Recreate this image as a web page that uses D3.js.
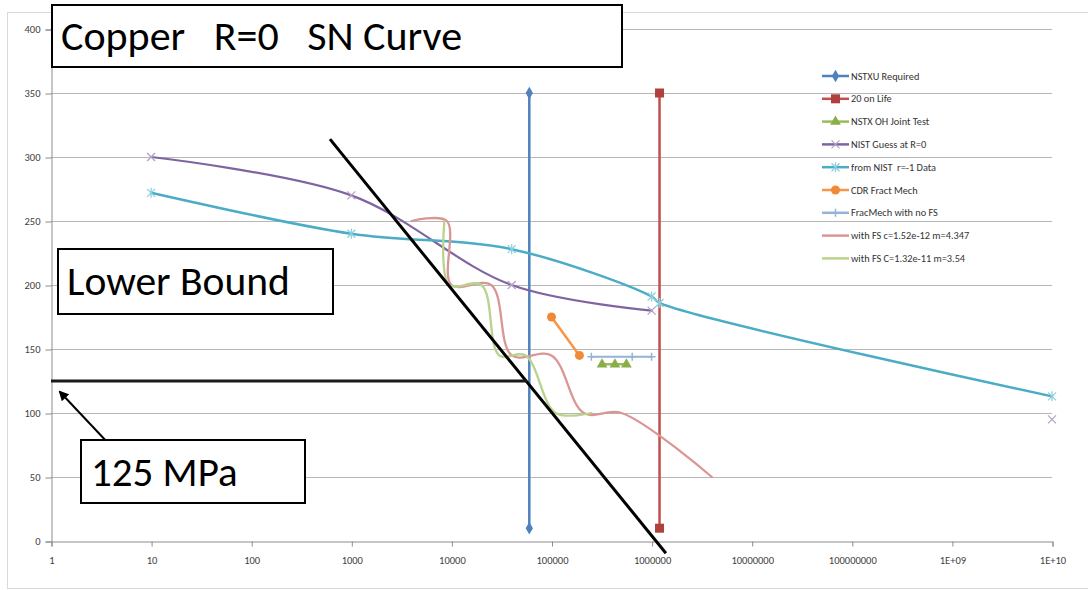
<!DOCTYPE html>
<html>
<head>
<meta charset="utf-8">
<script src="https://cdn.jsdelivr.net/npm/d3@7"></script>
<style>
  html, body { margin: 0; padding: 0; background: #fff; }
  svg { display: block; }
  text { font-family: Carlito, Calibri, Lato, "Open Sans", sans-serif; }
</style>
</head>
<body>
<svg id="chart" width="1088" height="590"></svg>
<script>
// ---------------- DATA ----------------
const xTickValues = [1, 10, 100, 1000, 10000, 100000, 1000000, 10000000, 100000000, 1e9, 1e10];
const xTickLabels = ["1", "10", "100", "1000", "10000", "100000", "1000000", "10000000", "100000000", "1E+09", "1E+10"];
const yTickValues = [0, 50, 100, 150, 200, 250, 300, 350, 400];

const seriesNames = [
  "NSTXU Required", "20 on Life", "NSTX OH Joint Test", "NIST Guess at R=0",
  "from NIST  r=-1 Data", "CDR Fract Mech", "FracMech with no FS",
  "with FS c=1.52e-12 m=4.347", "with FS C=1.32e-11 m=3.54"
];

const nstxuRequired = [[60000, 350], [60000, 10]];
const twentyOnLife = [[1200000, 350], [1200000, 10]];
const nstxOhJointTest = [[320000, 138], [430000, 138], [560000, 138]];
const nistGuessR0 = [[10, 300], [1000, 270], [40000, 200], [1000000, 180]];
const nistGuessR0Extra = [[1e10, 95]];
const nistRm1 = [[10, 272], [1000, 240], [40000, 228], [1000000, 191], [1200000, 186], [1e10, 113]];
const cdrFractMech = [[100000, 175], [190000, 145]];
const fracMechNoFS = [[250000, 144], [640000, 144], [1000000, 144]];
const withFS152 = [[4000, 250], [9000, 250], [10000, 200], [25000, 200], [40000, 145], [100000, 145], [210000, 100], [500000, 100], [4000000, 50]];
const withFS132 = [[8500, 250], [9500, 200], [20000, 200], [30000, 145], [55000, 145], [110000, 100], [250000, 100]];

// annotation lines (data units)
const lowerBoundLine = [[612, 314], [1390000, -9.6]];
const mpa125Line = [[1, 125], [57000, 125]];

// ---------------- LAYOUT ----------------
const svg = d3.select("#chart");
const x = d3.scaleLog().domain([1, 1e10]).range([51, 1052]);
const y = d3.scaleLinear().domain([0, 400]).range([541, 29]);

// chart area border
svg.append("rect").attr("x", 7.5).attr("y", 12.5).attr("width", 1085).attr("height", 576)
  .attr("fill", "none").attr("stroke", "#d9d9d9").attr("stroke-width", 1);

// gridlines
svg.append("g").selectAll("line").data(yTickValues.filter(v => v > 0)).join("line")
  .attr("x1", x(1)).attr("x2", x(1e10))
  .attr("y1", d => Math.round(y(d)) + 0.5).attr("y2", d => Math.round(y(d)) + 0.5)
  .attr("stroke", "#b7b7b7").attr("stroke-width", 1);

// axes
const yAxis = d3.axisLeft(y).tickValues(yTickValues).tickSize(6).tickPadding(5).tickFormat(d3.format("d"));
const gy = svg.append("g").attr("transform", `translate(${x(1) + 0.5},0.5)`).call(yAxis);
const xAxis = d3.axisBottom(x).tickValues(xTickValues).tickSize(5).tickPadding(10)
  .tickFormat((d, i) => xTickLabels[i]);
const gx = svg.append("g").attr("transform", `translate(0.5,${y(0) + 0.5})`).call(xAxis);
[gx, gy].forEach(g => {
  g.select(".domain").attr("stroke", "#8c8c8c");
  g.selectAll(".tick line").attr("stroke", "#8c8c8c");
  g.selectAll(".tick text").attr("fill", "#404040").style("font-size", "10.5px")
    .style("font-family", "Carlito, Calibri, Lato, sans-serif");
});

// ---------------- SERIES ----------------
const smooth = d3.line().x(d => x(d[0])).y(d => y(d[1])).curve(d3.curveCatmullRom.alpha(0.5));
const straight = d3.line().x(d => x(d[0])).y(d => y(d[1]));

function marker(g, type, color, cx, cy) {
  const s = 4;
  if (type === "diamond") {
    g.append("path").attr("d", d3.symbol(d3.symbolDiamond, 46)()).attr("transform", `translate(${cx},${cy})`).attr("fill", color);
  } else if (type === "square") {
    g.append("rect").attr("x", cx - 4.5).attr("y", cy - 4.5).attr("width", 9).attr("height", 9).attr("fill", color);
  } else if (type === "triangle") {
    g.append("path").attr("d", d3.symbol(d3.symbolTriangle, 50)()).attr("transform", `translate(${cx},${cy})`).attr("fill", color);
  } else if (type === "circle") {
    g.append("circle").attr("cx", cx).attr("cy", cy).attr("r", 4.5).attr("fill", color);
  } else if (type === "x") {
    g.append("path").attr("d", `M${cx - s},${cy - s}L${cx + s},${cy + s}M${cx - s},${cy + s}L${cx + s},${cy - s}`)
      .attr("stroke", color).attr("stroke-width", 1.3).attr("fill", "none");
  } else if (type === "star") {
    g.append("path").attr("d", `M${cx - s},${cy - s}L${cx + s},${cy + s}M${cx - s},${cy + s}L${cx + s},${cy - s}M${cx},${cy - s - 1}L${cx},${cy + s + 1}`)
      .attr("stroke", color).attr("stroke-width", 1.3).attr("fill", "none");
  } else if (type === "plus") {
    g.append("path").attr("d", `M${cx - s},${cy}L${cx + s},${cy}M${cx},${cy - s}L${cx},${cy + s}`)
      .attr("stroke", color).attr("stroke-width", 1.5).attr("fill", "none");
  }
}

const series = [
  { name: seriesNames[0], data: nstxuRequired, color: "#4F81BD", mcolor: "#4F81BD", marker: "diamond", smooth: false, w: 2.5 },
  { name: seriesNames[1], data: twentyOnLife, color: "#C0504D", mcolor: "#B0403D", marker: "square", smooth: false, w: 2.5 },
  { name: seriesNames[2], data: nstxOhJointTest, color: "#9BBB59", mcolor: "#8AAE48", marker: "triangle", smooth: false, w: 2.5 },
  { name: seriesNames[3], data: nistGuessR0, color: "#8064A2", mcolor: "#B3A2C7", marker: "x", smooth: true, w: 2.2 },
  { name: seriesNames[4], data: nistRm1, color: "#4BACC6", mcolor: "#8FD0E0", marker: "star", smooth: true, w: 2.5 },
  { name: seriesNames[5], data: cdrFractMech, color: "#F79646", mcolor: "#F08A36", marker: "circle", smooth: false, w: 2.5 },
  { name: seriesNames[6], data: fracMechNoFS, color: "#95B3D7", mcolor: "#95B3D7", marker: "plus", smooth: false, w: 2 },
  { name: seriesNames[7], data: withFS152, color: "#DA9694", mcolor: null, marker: null, smooth: true, w: 2.3 },
  { name: seriesNames[8], data: withFS132, color: "#B9D38F", mcolor: null, marker: null, smooth: true, w: 2.3 }
];

const gSeries = svg.append("g");
series.forEach(s => {
  const g = gSeries.append("g");
  g.append("path").attr("d", (s.smooth ? smooth : straight)(s.data))
    .attr("fill", "none").attr("stroke", s.color).attr("stroke-width", s.w)
    .attr("stroke-linejoin", "round").attr("stroke-linecap", "round");
  if (s.marker) s.data.forEach(d => marker(g, s.marker, s.mcolor, x(d[0]), y(d[1])));
});
// isolated NIST guess point
nistGuessR0Extra.forEach(d => marker(gSeries, "x", "#B3A2C7", x(d[0]), y(d[1])));

// ---------------- LEGEND ----------------
const legendY0 = 76, legendStep = 22.8;
const gLeg = svg.append("g");
series.forEach((s, i) => {
  const ly = legendY0 + i * legendStep;
  gLeg.append("line").attr("x1", 822).attr("x2", 849).attr("y1", ly).attr("y2", ly)
    .attr("stroke", s.color).attr("stroke-width", 2.5);
  if (s.marker) marker(gLeg, s.marker, s.mcolor, 835.5, ly);
  gLeg.append("text").attr("x", 851).attr("y", ly + 3.5).text(s.name)
    .attr("fill", "#333").style("font-size", "10.3px").style("white-space", "pre");
});

// ---------------- ANNOTATIONS ----------------
svg.append("path").attr("d", straight(lowerBoundLine)).attr("stroke", "#000").attr("stroke-width", 3).attr("fill", "none");
svg.append("path").attr("d", straight(mpa125Line)).attr("stroke", "#1a1a1a").attr("stroke-width", 3.2).attr("fill", "none");

// arrow
svg.append("defs").append("marker").attr("id", "arrowHead").attr("viewBox", "0 0 10 10")
  .attr("refX", 8).attr("refY", 5).attr("markerWidth", 5).attr("markerHeight", 5).attr("orient", "auto")
  .append("path").attr("d", "M0,0L10,5L0,10z").attr("fill", "#000");
svg.append("line").attr("x1", 109).attr("y1", 444).attr("x2", 60).attr("y2", 392)
  .attr("stroke", "#000").attr("stroke-width", 2).attr("marker-end", "url(#arrowHead)");

function textBox(bx, by, bw, bh, label, tx, ty, fs) {
  svg.append("rect").attr("x", bx).attr("y", by).attr("width", bw).attr("height", bh)
    .attr("fill", "#fff").attr("stroke", "#000").attr("stroke-width", 2);
  svg.append("text").attr("x", tx).attr("y", ty).text(label)
    .attr("fill", "#000").style("font-size", fs + "px").style("white-space", "pre");
}
textBox(52, 5, 570, 62, "Copper   R=0   SN Curve", 61, 50, 42);
textBox(58, 249, 275, 65, "Lower Bound", 67, 295, 41.5);
textBox(81, 440, 224, 63, "125 MPa", 91, 486, 41);
</script>
</body>
</html>
